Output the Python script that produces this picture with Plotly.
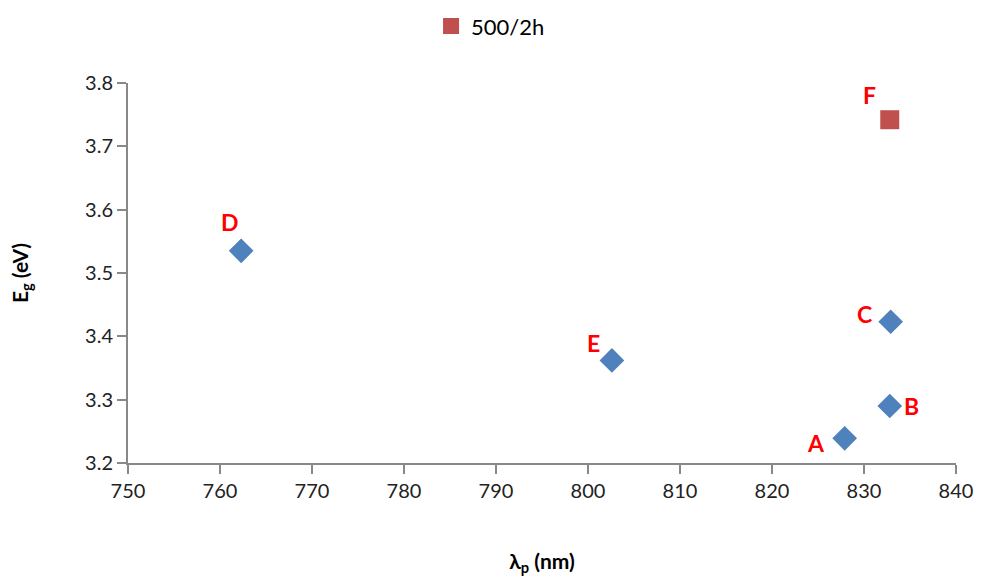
import plotly.graph_objects as go

labels = ["A", "B", "C", "D", "E"]
wavelength = [827.9, 832.8, 832.9, 762.3, 802.6]
energy = [3.239, 3.290, 3.423, 3.535, 3.362]

f_label = ["F"]
f_wavelength = [832.8]
f_energy = [3.742]
legend_name = "500/2h"

# label pixel offsets (dx, dy) relative to marker
offsets = {"A": (-29, -5), "B": (22, 0), "C": (-26, 8), "D": (-11, 29), "E": (-18, 17), "F": (-20, 25)}

font_family = "Lato, 'Open Sans', sans-serif"

fig = go.Figure()
fig.add_trace(go.Scatter(
    x=wavelength, y=energy, mode="markers", showlegend=False,
    marker=dict(symbol="diamond", size=19, color="#4F81BD"),
))
fig.add_trace(go.Scatter(
    x=f_wavelength, y=f_energy, mode="markers", name=legend_name,
    marker=dict(symbol="square", size=19, color="#C0504D"),
))

for lab, xv, yv in list(zip(labels, wavelength, energy)) + list(zip(f_label, f_wavelength, f_energy)):
    dx, dy = offsets[lab]
    fig.add_annotation(x=xv, y=yv, text="<b>%s</b>" % lab, showarrow=False,
                       xshift=dx, yshift=dy,
                       font=dict(family=font_family, size=23, color="#FF0000"))

axis_common = dict(
    showgrid=False, zeroline=False, showline=True, linecolor="#888888", linewidth=2,
    ticks="outside", tickcolor="#888888", ticklen=9, tickwidth=2, automargin=False,
    tickfont=dict(family=font_family, size=20, color="#222222"),
)

fig.update_layout(
    width=989, height=583,
    margin=dict(l=128, r=33, t=83, b=120),
    plot_bgcolor="white", paper_bgcolor="white",
    xaxis=dict(range=[750, 840], dtick=10, tick0=750,
               title=dict(text="<b>λ<sub>p</sub> (nm)</b>", font=dict(family=font_family, size=21, color="#000000"), standoff=53),
               **axis_common),
    yaxis=dict(range=[3.2, 3.8], dtick=0.1, tick0=3.2, tickformat=".1f",
               title=dict(text="<b>E<sub>g</sub> (eV)</b>", font=dict(family=font_family, size=21, color="#000000"), standoff=51),
               **axis_common),
    legend=dict(orientation="h", x=0.496, xref="container", xanchor="center",
                y=0.991, yref="container", yanchor="top",
                font=dict(family=font_family, size=22, color="#000000"),
                itemsizing="trace"),
)

fig.write_html("out.html", config={"displayModeBar": False},
               post_script="document.body.style.margin='0';")
